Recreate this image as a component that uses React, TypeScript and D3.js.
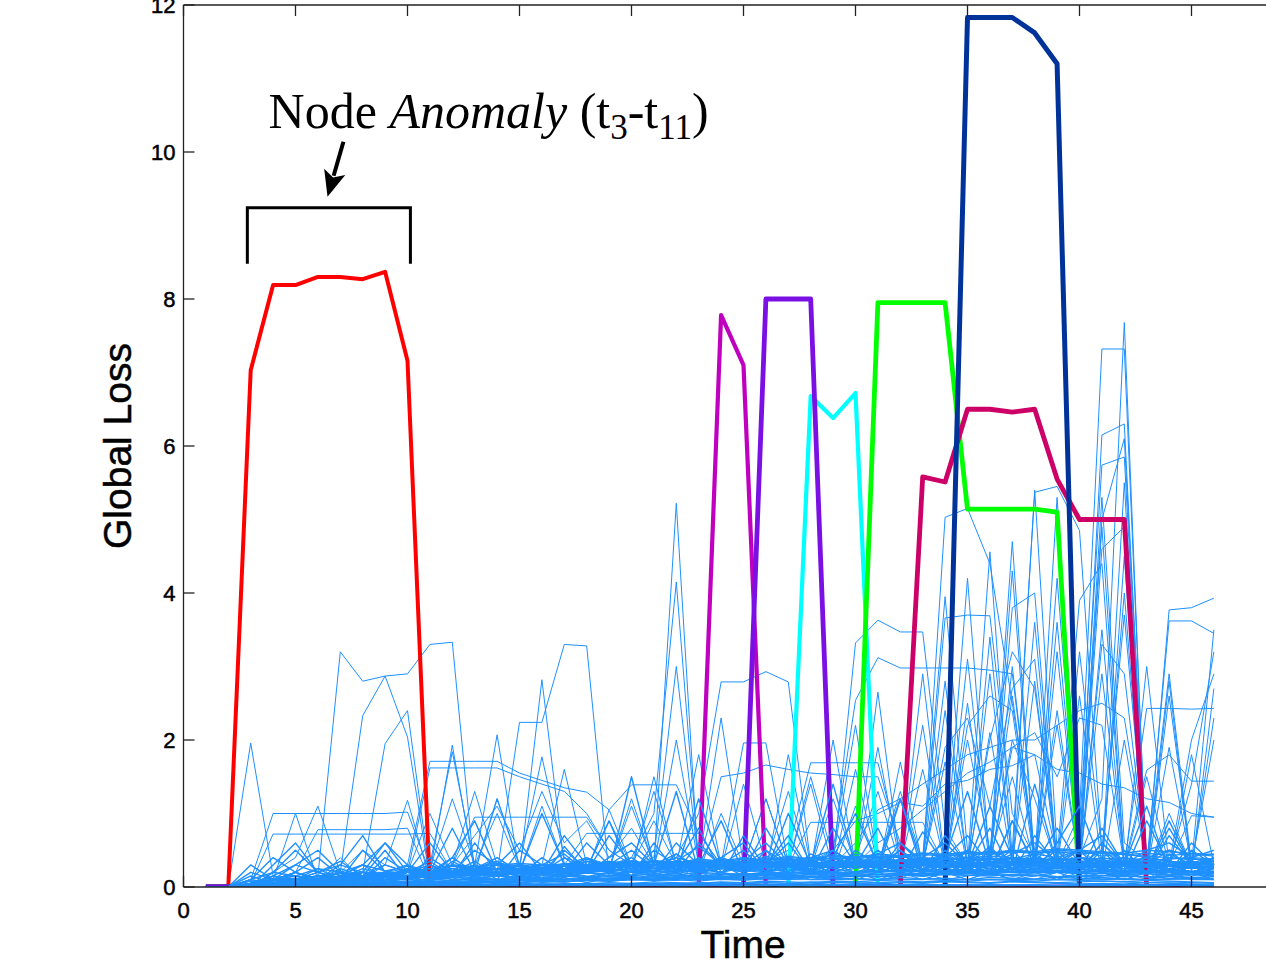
import React from 'react';
import * as d3 from 'd3';

// ---------- DATA ----------
const TIMES = [1,2,3,4,5,6,7,8,9,10,11,12,13,14,15,16,17,18,19,20,21,22,23,24,25,26,27,28,29,30,31,32,33,34,35,36,37,38,39,40,41,42,43,44,45,46];
const X_TICKS = [0,5,10,15,20,25,30,35,40,45];
const Y_TICKS = [0,2,4,6,8,10,12];

// highlighted anomalous nodes
const RED_NODE = [0,0,7.03,8.19,8.19,8.3,8.3,8.27,8.37,7.16, 0,0,0,0,0,0,0,0,0,0, 0,0,0,0,0,0,0,0,0,0, 0,0,0,0,0,0,0,0,0,0, 0,0,0,0,0,0];
const MAGENTA_NODE = [0,0,0,0,0,0,0,0,0,0, 0,0,0,0,0,0,0,0,0,0, 0,0,0,7.78,7.1,0,0,0,0,0, 0,0,0,0,0,0,0,0,0,0, 0,0,0,0,0,0];
const VIOLET_NODE = [0,0,0,0,0,0,0,0,0,0, 0,0,0,0,0,0,0,0,0,0, 0,0,0,0,0,8.0,8.0,8.0,0,0, 0,0,0,0,0,0,0,0,0,0, 0,0,0,0,0,0];
const CYAN_NODE = [0,0,0,0,0,0,0,0,0,0, 0,0,0,0,0,0,0,0,0,0, 0,0,0,0,0,0,0,6.68,6.38,6.72, 0,0,0,0,0,0,0,0,0,0, 0,0,0,0,0,0];
const GREEN_NODE = [0,0,0,0,0,0,0,0,0,0, 0,0,0,0,0,0,0,0,0,0, 0,0,0,0,0,0,0,0,0,0, 7.95,7.95,7.95,7.95,5.14,5.14,5.14,5.14,5.1,0, 0,0,0,0,0,0];
const CRIMSON_NODE = [0,0,0,0,0,0,0,0,0,0, 0,0,0,0,0,0,0,0,0,0, 0,0,0,0,0,0,0,0,0,0, 0,0,5.58,5.51,6.5,6.5,6.46,6.5,5.55,5.0, 5.0,5.0,0,0,0,0];
const NAVY_NODE = [0,0,0,0,0,0,0,0,0,0, 0,0,0,0,0,0,0,0,0,0, 0,0,0,0,0,0,0,0,0,0, 0,0,0,0,11.83,11.83,11.83,11.62,11.2,0, 0,0,0,0,0,0];

// other nodes: visible excursions
const FEATURE_NODES = [
  [0,0,.05,.1,.1,.15,3.2,2.8,2.87,2.9, 3.3,3.33,.15,.1,.1,.2,.1,.1,.2,.1, .1,.2,.1,.1,.2,.1,.1,.2,.1,.1, .2,.1,.1,.2,.3,.2,.1,.2,.1,.1, .2,.1,.1,.2,.1,.1],
  [0,0,0,.1,.1,.1,.2,2.33,2.87,2.04, .1,.2,.1,.1,.1,.1,.2,.1,.1,.1, .1,.1,.2,.1,.1,.2,.1,.1,.1,.1, .1,.2,.1,.1,.1,.2,.1,.1,.2,.1, .1,.1,.2,.1,.1,.1],
  [0,0,0,.1,.1,.15,.1,.2,1.95,2.4, .15,.1,.1,.2,.1,.1,.1,.1,.2,.1, .1,.2,.1,.1,.1,.1,.2,.1,.1,.2, .1,.1,.1,.2,.1,.1,.1,.1,.1,.2, .1,.1,.1,.1,.2,.1],
  [0,0,1.96,.15,.1,.05,.1,.08,.1,.12, .15,.2,.18,.15,.2,.22,.18,.2,.25,.2, .22,.2,.25,.3,.22,.2,.25,.22,.2,.25, .3,.25,.2,.22,.25,.3,.25,.2,.22,.25, .2,.22,.25,.2,.22,.2],
  [0,0,.1,1.0,1.0,1.0,1.0,1.0,1.0,1.02, .2,.3,.25,.2,.3,.25,.3,.35,.3,.25, .3,.35,.3,.4,.3,.35,.3,.25,.3,.35, .4,.3,.35,.3,.4,.35,.3,.35,.3,.3, .35,.3,.4,.35,.3,.35],
  [0,0,.05,.72,.72,.72,.72,.72,.72,.72, .73,.2,.15,.2,.25,.2,.15,.2,.25,.2, .15,.2,.25,.2,.15,.2,.3,.2,.15,.2, .25,.2,.15,.2,.3,.25,.2,.15,.2,.25, .2,.15,.2,.25,.2,.2],
  [0,0,0,.1,.2,.78,.78,.78,.78,.8, .1,.15,.2,.15,.1,.15,.2,.15,.1,.2, .15,.1,.2,.15,.1,.2,.15,.1,.15,.2, .1,.15,.2,.1,.15,.2,.1,.15,.2,.1, .15,.2,.1,.15,.2,.1],
  [0,0,0,.1,1.0,.1,.4,.1,.3,1.18, .1,.2,.3,.2,.1,.3,.2,.1,.2,.3, .2,.1,.3,.2,.1,.2,.3,.2,.1,.3, .2,.1,.3,.2,.1,.2,.3,.2,.1,.3, .2,.1,.2,.3,.2,.1],
  [0,0,0,.2,.4,1.1,.2,.5,.3,.2, 1.0,.3,.2,.4,.2,.3,.2,.4,.3,.2, .3,.4,.2,.3,.4,.2,.3,.2,.4,.3, .2,.3,.4,.2,.3,.2,.4,.3,.2,.3, .4,.2,.3,.2,.4,.3],
  [0,0,0,.1,.1,.2,.1,.2,.2,.3, 1.71,1.71,1.71,1.71,1.55,1.45,1.35,1.29,1.05,1.39, 1.39,1.39,.73,.3,.2,.3,.2,.3,.2,.3, .2,.3,.2,.3,.2,.3,.2,.3,.2,.3, .2,.3,.2,.3,.2,.3],
  [0,0,0,.05,.1,.1,.15,.1,.1,.15, .2,.15,.2,.2,2.24,2.24,3.3,3.28,.15,.2, .15,.2,.25,.2,.15,.2,.25,.2,.15,.2, .25,.2,.15,.2,.25,.2,.15,.2,.25,.2, .15,.2,.25,.2,.15,.2],
  [0,0,0,.05,.05,.1,.1,.1,.15,.1, .15,.2,.15,.2,.2,2.82,.3,.2,.25,.2, .3,.25,.2,.3,.25,.2,.3,.25,.2,.3, .25,.2,.3,.25,.2,.3,.25,.2,.3,.25, .2,.3,.25,.2,.3,.25],
  [0,0,0,.05,.1,.1,.1,.15,.1,.15, .2,1.93,.2,.25,.2,.3,.25,.2,.3,.25, .2,.3,.25,.2,.3,.25,.2,.3,.25,.2, .3,.25,.2,.3,.25,.2,.3,.25,.2,.3, .25,.2,.3,.25,.2,.3],
  [0,0,0,.1,.1,.15,.1,.2,.15,.2, .3,1.84,.3,2.07,.2,.3,.25,.3,.2,.3, .25,.3,.2,.3,.25,.3,.2,.3,.25,.3, .2,.3,.25,.3,.2,.3,.25,.3,.2,.3, .25,.3,.2,.3,.25,.3],
  [0,0,0,.1,.1,.1,.15,.2,.15,.2, .2,.3,.2,.3,.3,1.77,.4,.3,.2,.3, .2,.3,.2,.3,.2,.3,.2,.3,.2,.3, .2,.3,.2,.3,.2,.3,.2,.3,.2,.3, .2,.3,.2,.3,.2,.3],
  [0,0,0,.1,.1,.1,.15,.1,.2,.2, 1.62,1.62,1.62,1.62,1.5,1.4,1.3,1.0,.5,.3, .2,.3,.25,.3,.2,.3,.25,.3,.2,.3, .25,.3,.2,.3,.25,.3,.2,.3,.25,.3, .2,.3,.25,.3,.2,.3],
  [0,0,0,.05,.1,.1,.1,.15,.1,.2, .2,.3,.95,.95,.95,.95,.95,.95,.5,.3, .2,.3,.2,.3,.2,.3,.2,.3,.2,.3, .2,.3,.2,.3,.2,.3,.2,.3,.2,.3, .2,.3,.2,.3,.2,.3],
  [0,0,0,.1,.1,.1,.1,.1,.1,.15, .2,.2,.25,.2,.3,.25,.3,.3,.35,.3, .3,5.22,.2,.3,.25,.3,.2,.3,.25,.3, .2,.3,.25,.3,.2,.3,.25,.3,.2,.3, .25,.3,.2,.3,.25,.3],
  [0,0,0,.05,.1,.1,.1,.1,.15,.1, .2,.2,.2,.25,.2,.3,.25,.3,.3,.4, 1.0,4.15,.3,.3,.25,.3,.3,.25,.3,.3, .25,.3,.3,.25,.3,.3,.25,.3,.3,.25, .3,.3,.25,.3,.3,.25],
  [0,0,0,.1,.1,.1,.1,.1,.1,.1, .15,.2,.2,.2,.25,.2,.3,.28,.32,.3, .4,3.0,.3,.28,.32,.3,.28,.32,.3,.28, .32,.3,.28,.32,.3,.28,.32,.3,.28,.32, .3,.28,.32,.3,.28,.32],
  [0,0,0,.05,.1,.1,.1,.15,.1,.2, .2,.25,.2,.3,.25,.2,.3,.25,.3,.3, .3,.4,1.0,2.79,2.79,2.93,2.79,.3,.25,.3, .2,.3,.25,.3,.2,.3,.25,.3,.2,.3, .25,.3,.2,.3,.25,.3],
  [0,0,0,.05,.05,.1,.1,.1,.15,.1, .15,.2,.2,.25,.2,.3,.25,.2,.3,.25, .3,.25,.3,.3,1.96,1.96,.3,.25,.3,.2, .25,.3,.2,.25,.3,.2,.25,.3,.2,.25, .3,.2,.25,.3,.2,.25],
  [0,0,0,.1,.1,.1,.15,.1,.15,.2, .2,.25,.2,.3,.25,.3,.3,.25,.3,.35, .3,.35,.3,1.5,1.55,1.66,1.6,1.55,1.53,1.5, 1.5,.6,.3,.25,.3,.35,.3,.25,.3,.35, .3,.25,.3,.35,.3,.25],
  [0,0,0,.05,.1,.1,.1,.1,.15,.1, .15,.2,.2,.25,.2,.3,.25,.2,.3,.25, .3,.25,.3,.3,.25,.3,.3,.25,.3,3.32, 3.63,3.47,3.47,.8,.3,.25,.3,.3,.25,.3, .3,.25,.3,.3,.25,.3],
  [0,0,0,.05,.05,.1,.1,.1,.1,.15, .15,.2,.2,.2,.25,.2,.3,.25,.3,.3, .3,.35,.3,.3,.35,.3,.3,.35,.5,2.54, 3.12,2.98,2.98,2.98,2.98,2.95,2.9,.4,.3,.35, .3,.3,.35,.3,.3,.35],
  [0,0,0,.05,.1,.1,.1,.15,.1,.15, .2,.2,.2,.25,.2,.25,.3,.25,.3,.3, .3,.3,.3,.35,.3,.3,.3,.88,.88,.88, .88,.88,.88,.3,.3,.35,.3,.3,.35,.3, .3,.35,.3,.3,.35,.3],
  [0,0,0,.05,.05,.1,.1,.1,.1,.1, .15,.15,.2,.2,.2,.25,.2,.25,.3,.25, .3,.3,.25,.3,.3,.35,.5,1.69,1.69,1.69, 1.69,.5,.3,.35,.3,.3,.35,.3,.3,.35, .3,.3,.35,.3,.3,.35],
  [0,0,0,.05,.1,.1,.1,.1,.1,.15, .15,.2,.2,.2,.25,.25,.2,.3,.25,.3, .3,.25,.3,.3,.25,.3,.35,.3,.3,.3, 2.65,.3,.35,.3,.3,.35,.3,.3,.35,.3, .3,.35,.3,.3,.35,.3],
  [0,0,0,.05,.05,.1,.1,.1,.15,.1, .15,.2,.15,.2,.25,.2,.25,.3,.25,.3, .3,.25,.3,.35,.3,.3,.35,.3,.3,.35, .3,.3,.4,3.95,.5,.3,.35,.3,.4,.3, .35,.3,.4,.3,.35,.3],
  [0,0,0,.05,.1,.1,.1,.1,.1,.15, .15,.2,.2,.25,.2,.25,.3,.25,.3,.3, .3,.3,.35,.3,.3,.35,.3,.3,.35,.3, .3,.35,.3,5.03,5.15,4.4,2.5,.5,.35,.3, .35,.3,.35,.3,.35,.3],
  [0,0,0,.05,.05,.1,.1,.1,.15,.1, .15,.2,.2,.2,.25,.2,.3,.25,.3,.3, .3,.3,.35,.3,.3,.35,.3,.3,.35,.3, .3,.35,.3,.35,.4,.3,.35,.4,.3,1.0, 7.32,7.32,.2,.3,.35,.3],
  [0,0,0,.05,.1,.1,.15,.1,.1,.15, .2,.15,.2,.2,.25,.2,.25,.3,.25,.3, .3,.25,.3,.35,.3,.3,.35,.3,.3,.35, .3,.35,.3,.3,.35,.3,.4,.3,.35,.4, 1.2,7.68,.1,.3,.2,.3],
  [0,0,0,.05,.05,.1,.1,.15,.1,.1, .15,.2,.15,.2,.2,.25,.2,.25,.3,.25, .3,.3,.25,.3,.35,.3,.3,.35,.3,.3, .35,.3,.3,.35,.3,.35,.3,.4,.35,.5, 6.15,6.3,.2,.3,.25,.3],
  [0,0,0,.1,.1,.1,.1,.1,.15,.15, .2,.2,.2,.25,.2,.25,.3,.25,.3,.3, .25,.3,.3,.35,.3,.3,.35,.3,.35,.3, .3,.35,.3,.35,.4,.3,.35,.4,.3,.8, 5.74,5.85,.3,.25,.3,.25],
  [0,0,0,.05,.1,.1,.1,.15,.1,.15, .2,.15,.2,.25,.2,.25,.2,.3,.25,.3, .3,.25,.3,.3,.35,.3,.3,.35,.3,.35, .3,.35,.3,.35,.3,.4,.5,5.37,5.45,4.85, .5,.3,.35,.3,.25,.3],
  [0,0,0,.05,.05,.1,.1,.1,.15,.1, .15,.2,.2,.2,.25,.2,.25,.25,.3,.25, .3,.3,.25,.3,.3,.35,.3,.3,.35,.3, .35,.3,.35,.3,.35,.4,.3,.35,.4,.3, .35,.3,.2,3.77,3.8,3.93],
  [0,0,0,.05,.1,.05,.1,.15,.1,.15, .15,.2,.15,.2,.25,.2,.2,.25,.3,.25, .3,.25,.3,.3,.25,.3,.35,.3,.3,.35, .3,.3,.35,.3,.4,.35,.3,.4,.35,.3, .4,.35,.3,3.62,3.62,3.45],
  [0,0,0,.1,.1,.1,.1,.15,.15,.1, .2,.2,.15,.2,.25,.25,.2,.3,.25,.3, .25,.3,.3,.25,.3,.3,.35,.3,.3,.35, .3,.35,.3,.35,.3,.35,.4,.3,.35,.4, .3,.35,.4,.3,.3,3.5],
  [0,0,0,.05,.1,.1,.15,.1,.15,.1, .2,.15,.2,.2,.25,.2,.3,.25,.25,.3, .3,.25,.3,.35,.3,.3,.35,.3,.35,.3, .35,.3,.4,.35,.3,.4,.35,.3,.4,.35, .3,.3,2.43,2.43,2.42,2.43],
  [0,0,0,.05,.05,.1,.1,.1,.1,.15, .15,.15,.2,.2,.2,.25,.25,.25,.3,.3, .3,.3,.3,.35,.3,.35,.3,.35,.3,.35, .35,.3,.35,.4,.35,.3,.4,.35,.3,.4, .35,.3,1.59,1.8,1.44,1.44],
  [0,0,0,.1,.1,.1,.15,.1,.15,.2, .15,.2,.2,.25,.2,.25,.3,.25,.3,.25, .3,.3,.35,.3,.3,.35,.3,.35,.3,.3, .35,.3,.35,.3,.4,.35,.3,.4,.35,.3, .4,.35,.3,.3,.97,.95],
  [0,0,0,.05,.1,.1,.1,.1,.15,.15, .2,.2,.2,.2,.25,.25,.3,.3,.25,.3, .3,.3,.35,.3,.3,.35,.3,.3,.35,.3, .35,.3,.35,.3,.3,4.56,.4,.3,.35,.3, .35,.3,.4,.35,.3,.35],
  [0,0,0,.1,.05,.1,.15,.15,.1,.2, .15,.2,.25,.2,.25,.3,.2,.3,.25,.3, .3,.25,.3,.35,.3,.3,.35,.3,.35,.3, .3,.35,.3,.35,.3,.35,.3,5.4,.5,.35, .3,.35,.3,.35,.3,.3],
  [0,0,0,.05,.1,.1,.1,.15,.15,.15, .2,.2,.25,.2,.25,.25,.3,.25,.3,.3, .3,.35,.3,.3,.35,.3,.3,.35,.3,.35, .3,.35,.3,.35,.3,.35,.3,.35,.3,.4, 5.3,.6,.35,.3,.35,.3],
  [0,0,0,.1,.1,.1,.15,.1,.1,.2, .2,.15,.2,.25,.2,.3,.25,.3,.25,.3, .25,.3,.35,.3,.3,.35,.3,.35,.3,.3, .35,.3,.35,.3,.35,.3,3.8,4.0,.3,.35, .3,.35,.3,.3,.35,.3],
  [0,0,0,.05,.1,.1,.1,.1,.15,.15, .2,.2,.2,.25,.25,.25,.3,.3,.25,.3, .3,.3,.35,.3,.35,.3,.35,.3,.35,.3, .35,.3,.3,3.66,3.7,3.69,1.0,.4,.35,.3, .35,.3,.35,.3,.35,.3],
  [0,0,0,.1,.1,.1,.1,.15,.15,.2, .2,.15,.2,.2,.25,.3,.25,.3,.3,.25, .3,.35,.3,.3,.35,.3,.35,.3,.3,.35, .3,.35,.3,.35,.3,.35,.3,.2,4.2,.3, .35,.3,.35,.3,.35,.3],
  [0,0,0,.05,.1,.1,.15,.1,.15,.15, .2,.2,.25,.2,.25,.2,.3,.25,.3,.3, .25,.3,.35,.3,.3,.35,.3,.35,.3,.35, .3,.35,.3,.35,.3,.35,.3,.35,.3,.3, 4.6,4.9,.2,.35,.3,.35],
  [0,0,0,.1,.1,.15,.1,.15,.2,.15, .2,.25,.2,.25,.3,.25,.3,.25,.3,.3, .35,.3,.3,.35,.3,.35,.3,.35,.3,.35, .3,.35,.3,.35,2.2,2.6,2.4,.3,.35,.3, .35,.3,.35,.3,.35,.3],
  [0,0,0,.05,.1,.1,.1,.15,.1,.15, .2,.2,.2,.25,.2,.25,.3,.25,.3,.3, .3,.3,.35,.3,.35,.3,.3,.35,.3,.35, .3,.35,.3,2.8,.3,2.9,.35,.3,.35,.3, .35,.3,.35,.3,.35,.3],
  [0,0,0,.1,.1,.1,.1,.15,.2,.15, .2,.2,.25,.2,.25,.3,.25,.3,.25,.3, .3,.35,.3,.3,.35,.3,.35,.3,.35,.3, .35,.3,.35,.3,.35,.3,.35,.3,.3,3.2, .5,3.7,.3,.35,.3,.35],
  [0,0,0,.05,.05,.1,.15,.1,.15,.2, .15,.2,.25,.2,.25,.25,.3,.3,.25,.3, .3,.35,.3,.35,.3,.35,.3,.3,.35,.3, .35,.3,.35,.3,.35,.3,.35,.3,.35,.3, .3,4.0,.2,2.8,.2,.3],
  [0,0,0,.1,.1,.1,.15,.15,.1,.2, .2,.2,.25,.2,.3,.25,.3,.25,.3,.3, .35,.3,.3,.35,.3,.35,.3,.35,.3,.35, .3,.35,.3,.35,.3,.35,.3,.35,.3,.35, .3,.35,.3,.3,2.0,2.9],
  [0,0,0,.05,.1,.1,.1,.15,.1,.15, .2,.15,.2,.25,.2,.25,.3,.25,.3,.25, .3,.3,.35,.3,.35,.3,.35,.3,.35,.3, .35,.3,.35,.3,.35,.3,.35,.3,.35,.3, .35,.3,.35,.3,.2,2.7],
  [0,0,0,.1,.1,.1,.1,.15,.15,.2, .2,.2,.2,.25,.25,.3,.3,.25,.3,.3, .3,.35,.3,.35,.3,.35,.3,.35,.3,.35, .3,.35,.3,.35,.3,.3,1.9,2.1,1.5,2.3, 2.2,.3,.35,.3,.35,.3],
  [0,0,0,.05,.1,.1,.15,.1,.15,.15, .2,.2,.25,.25,.2,.3,.25,.3,.3,.25, .3,.35,.3,.3,.35,.3,.35,.3,.5,.9, 1.0,1.15,1.1,1.4,1.45,1.6,1.65,1.8,1.6,1.55, 1.4,1.35,1.2,1.15,1.0,.95],
  [0,0,0,.1,.1,.15,.1,.15,.2,.2, .15,.2,.25,.2,.3,.25,.3,.3,.25,.3, .35,.3,.3,.35,.3,.35,.3,.35,.3,.35, .3,.35,.3,.35,.3,.35,.3,.35,.3,.35, .3,.35,.3,2.9,.3,.35],
  [0,0,0,.05,.1,.1,.1,.15,.1,.15, .2,.2,.2,.25,.25,.3,.25,.3,.3,.3, .3,.35,.3,.35,.3,.35,.3,.35,.3,.6, 1.05,1.2,1.4,1.6,1.8,1.9,2.0,1.2,.3,.35, .3,.35,.3,.35,.3,.35],
  [0,0,0,.1,.05,.1,.15,.1,.15,.2, .15,.2,.25,.2,.3,.25,.3,.25,.3,.3, .3,.3,.35,.3,.35,.3,.35,.3,.35,.3, .6,.8,1.05,1.3,1.55,1.7,1.9,1.8,.4,.3, .35,.3,.35,.3,.35,.3],
  [0,0,0,.05,.1,.1,.1,.15,.1,.15, .2,.2,.25,.2,.25,.2,.3,.73,.73,.73, .73,.73,.73,.3,.25,.3,.25,.3,.25,.3, .25,.3,.25,.3,.25,.3,.25,.3,.25,.3, .25,.3,.25,.3,.25,.3],
  [0,0,0,.1,.1,.1,.15,.1,.15,.2, .2,.15,.2,.25,.2,.3,.25,.2,1.05,.3, .9,.3,.25,.3,.25,.3,.25,.3,.25,.3, .25,.3,.25,.3,.25,.3,.25,.3,.25,.3, .25,.3,.25,.3,.25,.3],
  [0,0,0,.05,.1,.1,.1,.15,.1,.2, .2,.2,.25,.2,.3,.25,.3,.25,.3,.3, .3,.3,.35,.3,.35,.3,.35,.3,.35,.3, .35,.3,.35,.3,.3,2.0,3.2,2.7,.4,3.9, 4.4,.3,.35,.3,.35,.3],
  [0,0,0,.1,.1,.1,.15,.1,.15,.15, .2,.2,.2,.25,.25,.3,.25,.3,.3,.3, .35,.3,.3,.35,.3,.35,.3,.35,.3,.35, .3,.35,.3,.35,.35,.4,4.7,.3,2.2,.3, 4.9,.3,.35,.3,.35,.3],
  [0,0,0,.05,.05,.1,.1,.15,.15,.2, .2,.25,.2,.25,.3,.25,.3,.3,.25,.3, .3,.35,.3,.35,.3,.35,.3,.35,.3,.35, .3,.35,.3,1.9,2.3,1.1,2.7,3.1,.3,.3, 3.3,2.9,.3,.35,.3,.35],
  [0,0,0,.1,.1,.1,.1,.15,.2,.15, .2,.25,.2,.3,.25,.3,.25,.3,.3,.35, .3,.3,.35,.3,.35,.3,.35,.3,.35,.3, .35,.3,.35,.3,.35,.3,.35,.3,5.3,.5, .3,5.5,.2,.35,.3,.35],
  [0,0,0,.05,.1,.1,.15,.1,.15,.2, .2,.2,.25,.2,.25,.3,.25,.3,.3,.3, .3,.35,.3,.35,.3,.35,.3,.35,.3,.35, .3,.35,.3,.3,3.1,.4,1.5,.3,3.6,.3, .35,.3,.35,.3,.35,.3],
  [0,0,0,.1,.1,.1,.1,.1,.15,.15, .2,.2,.2,.25,.25,.25,.3,.3,.3,.3, .35,.3,.35,.3,.35,.3,.35,.3,.35,.3, .35,.3,.35,.3,.35,.3,.35,.3,.35,.5, 5.0,6.1,.3,.35,.3,.35],
  [0,0,0,.05,.1,.1,.1,.15,.1,.15, .2,.2,.25,.25,.3,.25,.3,.25,.3,.3, .3,.35,.3,.35,.3,.35,.3,.35,.3,.35, .3,.35,.3,.35,.3,.3,2.0,2.0,2.2,2.4, 2.5,2.3,.4,.35,.3,.35],
  [0,0,0,.1,.1,.1,.15,.15,.1,.15, .2,.2,.2,.25,.25,.3,.3,.25,.3,.3, .35,.3,.35,.3,.35,.3,.35,.3,.35,.3, .35,.3,.35,.3,.35,.3,.35,.3,.35,.3, .35,.3,.35,.3,1.4,3.2],
  [0,0,0,.05,.05,.1,.1,.15,.15,.15, .2,.2,.25,.2,.3,.25,.3,.3,.25,.3, .35,.3,.3,.35,.3,.35,.3,.35,.3,.35, .3,.35,.3,.35,.3,.35,.3,.35,.3,.35, .3,.35,.2,1.0,.3,2.0],
  [0,0,0,.1,.1,.15,.1,.15,.15,.2, .2,.2,.25,.25,.3,.25,.3,.3,.3,.3, .3,.35,.3,.35,.3,.35,.3,.35,.3,.4, 1.3,.3,1.6,.3,2.0,.5,2.6,.4,.35,.3, .35,.3,.35,.3,.35,.3],
  [0,0,0,.05,.1,.1,.1,.1,.15,.15, .2,.2,.2,.25,.25,.3,.25,.3,.3,.3, .35,.3,.35,.3,.3,1.2,.3,1.5,.4,2.2, .3,1.3,.35,.3,.35,.3,.35,.3,.35,.3, .35,.3,.35,.3,.35,.3],
  [0,0,0,.1,.1,.1,.15,.1,.15,.2, .2,.3,.7,1.1,.5,1.3,.6,.9,.4,.8, .3,.35,.3,.35,.3,.35,.3,.35,.3,.35, .3,.35,.3,.35,.3,.35,.3,.35,.3,.35, .3,.35,.3,.35,.3,.35],
];

// other nodes: occasional medium spikes
const SPIKE_NODES = [
  [0,0,0,.1,.2,.1,.2,.15,.2,.1, .2,.15,.25,.2,.15,.25,.2,.3,.2,.25, .3,.2,.3,2.3,.3,.2,1.8,.3,.25,.3, .2,.3,2.2,.3,.25,.3,3.0,.3,.2,.3, .25,.3,.2,2.6,.3,.25],
  [0,0,0,.05,.1,.2,.1,.2,.1,.15, .2,.1,.2,.15,.25,.2,.15,.25,.3,.2, .25,.3,.2,.25,1.4,.3,.2,.25,2.0,.3, .25,.2,.3,.25,2.5,.3,.2,.25,3.2,.3, .2,2.0,.3,.25,.2,.3],
  [0,0,.05,.1,.1,.15,.1,.2,.15,.1, .2,.15,.2,.25,.2,.15,.3,.2,.25,.3, .2,.3,1.8,.3,.2,.25,.3,1.4,.25,.3, .2,1.7,.3,.25,.2,3.4,.3,.25,.3,.2, 3.5,.3,.25,.2,1.8,.3],
  [0,0,0,.1,.15,.1,.2,.1,.15,.2, .1,.2,.15,.25,.2,.3,.2,.25,.2,.3, .25,.2,.3,.25,.3,1.2,.3,.2,.25,1.6, .3,.25,.2,2.4,.3,.25,.3,2.8,.3,.2, .3,.25,1.5,.3,.2,.25],
  [0,0,0,.05,.1,.1,.15,.2,.1,.15, .2,.1,.25,.2,.15,.2,.3,.2,.25,.2, .3,.25,.2,1.0,.3,.25,.2,.3,.25,.3, 1.9,.3,.25,.3,4.2,.3,.2,.3,.25,2.6, .3,.25,.2,1.9,.3,.2],
  [0,0,.05,.05,.1,.15,.1,.15,.2,.1, .15,.2,.25,.2,.15,.25,.2,.3,.25,1.1, .3,.25,.2,.3,.25,.3,1.3,.25,.3,.2, .3,.25,2.9,.3,.2,.3,4.3,.3,.25,.3, .2,4.5,.3,.25,.3,.2],
  [0,0,0,.1,.05,.1,.15,.1,.2,.15, .2,.15,.2,.25,.2,.3,.2,.25,.3,.2, 1.5,.3,.2,.25,.3,.2,.3,.25,1.2,.3, .2,.25,.3,1.7,.3,.2,.25,.3,2.4,.3, 2.9,.3,.2,.3,.25,2.3],
  [0,0,0,.05,.1,.15,.1,.2,.1,.15, .2,.25,.15,.2,.3,.2,.25,.2,.3,.25, .3,2.0,.3,.25,.2,.3,.25,.3,.2,1.1, .3,.25,.2,.3,.25,2.1,.3,3.6,.3,.25, .3,.2,3.0,.3,.25,.3],
  [0,0,0,.1,.1,.15,.2,.15,.2,.25, .2,.3,1.3,.3,.2,1.1,.3,.25,.9,.3, 1.3,.3,.25,.3,.2,.3,.25,.3,.2,.3, .25,.3,.2,.3,.25,.3,.2,.3,.25,.3, .2,.3,.25,.3,.2,.3],
  [0,0,.05,.1,.15,.1,.2,.15,.1,.2, .25,1.2,.3,1.0,.25,.3,1.6,.3,.25,1.2, .3,.25,.3,.2,.3,.25,.3,.2,.3,.25, .3,.2,.3,.25,.3,.2,.3,.25,.3,.2, .3,.25,.3,.2,.3,.25],
];

// other nodes: low-loss background band
const BAND_NODES = [
  [0,0,.02,.05,.08,.1,.12,.1,.15,.2, .25,.3,.28,.3,.32,.3,.28,.3,.33,.35, .3,.32,.35,.3,.28,.3,.33,.35,.3,.32, .35,.3,.33,.35,.32,.3,.35,.33,.3,.32, .3,.33,.35,.3,.32,.3],
  [0,0,.01,.03,.05,.06,.08,.07,.1,.12, .15,.18,.2,.22,.2,.25,.22,.2,.25,.28, .25,.27,.3,.28,.25,.27,.3,.28,.3,.27, .3,.28,.25,.3,.28,.27,.3,.25,.28,.3, .27,.25,.28,.3,.27,.25],
  [0,0,0,.02,.03,.05,.04,.06,.05,.08, .1,.09,.12,.1,.14,.12,.15,.13,.16,.15, .18,.16,.2,.18,.17,.2,.19,.22,.2,.18, .22,.2,.24,.22,.2,.23,.21,.25,.22,.2, .24,.22,.2,.23,.21,.2],
  [0,0,.05,.1,.06,.12,.08,.14,.1,.16, .12,.18,.14,.2,.16,.22,.18,.24,.2,.26, .22,.28,.24,.3,.26,.32,.28,.34,.3,.36, .32,.38,.34,.4,.36,.38,.34,.36,.32,.3, .34,.32,.3,.28,.3,.26],
  [0,0,0,.15,.3,.2,.35,.15,.3,.2, .1,.35,.2,.3,.15,.4,.2,.35,.25,.4, .2,.45,.25,.4,.3,.5,.2,.45,.3,.4, .25,.5,.3,.45,.2,.5,.3,.45,.25,.4, .3,.5,.2,.45,.3,.4],
  [0,0,.1,.05,.2,.1,.25,.15,.5,.1, .3,.15,.6,.2,.3,.1,.55,.2,.35,.15, .6,.2,.4,.15,.7,.25,.4,.2,.8,.3, .4,.2,.75,.3,.5,.2,.9,.3,.5,.2, .8,.3,.4,.2,.6,.3],
  [0,0,.03,.08,.12,.1,.15,.13,.18,.16, .2,.18,.22,.25,.23,.27,.25,.3,.28,.32, .3,.34,.32,.36,.34,.38,.36,.4,.38,.42, .4,.42,.4,.38,.4,.42,.4,.38,.36,.4, .38,.4,.36,.38,.4,.38],
  [0,0,0,0,.02,.02,.04,.05,.05,.06, .08,.07,.09,.1,.09,.11,.1,.12,.11,.13, .12,.14,.13,.15,.14,.16,.15,.17,.16,.18, .17,.19,.18,.2,.19,.21,.2,.22,.21,.2, .22,.21,.2,.22,.21,.2],
  [0,0,.2,.1,.3,.5,.2,.1,.4,.2, .6,.2,.3,.1,.5,.3,.2,.6,.3,.2, .5,.3,.8,.2,.4,.3,.6,.2,.4,1.0, .3,.5,.2,.7,.3,1.1,.4,.3,.8,.3, .5,.2,.9,.3,.4,.3],
  [0,0,.05,.15,.1,.2,.12,.25,.15,.2, .3,.2,.25,.35,.2,.3,.25,.35,.3,.25, .35,.3,.25,.35,.3,.4,.3,.35,.25,.4, .3,.35,.4,.3,.35,.4,.3,.35,.4,.3, .35,.3,.4,.35,.3,.35],
  [0,0,0,.3,.6,.2,.1,.5,.2,.1, .2,.8,.2,.3,.6,.2,.4,.2,.7,.3, .2,.6,.3,.9,.2,.3,.7,.2,.5,.3, .8,.2,.4,.6,.3,.2,.9,.3,.5,.2, .6,.3,.2,.7,.3,.2],
  [0,0,.02,.04,.06,.08,.1,.12,.14,.15, .16,.17,.18,.19,.2,.22,.24,.26,.27,.28, .29,.3,.3,.31,.32,.32,.33,.33,.34,.34, .35,.35,.34,.34,.33,.33,.32,.32,.31,.3, .3,.29,.28,.28,.27,.26],
  [0,0,.1,.2,.15,.25,.2,.3,.22,.28, .2,.3,.25,.35,.22,.3,.28,.38,.3,.35, .28,.4,.32,.38,.3,.42,.35,.4,.32,.45, .38,.42,.35,.45,.4,.5,.38,.45,.4,.5, .42,.45,.4,.5,.42,.45],
  [0,0,0,.05,.02,.08,.05,.1,.07,.12, .09,.14,.1,.16,.12,.18,.14,.2,.15,.22, .17,.24,.19,.26,.21,.28,.23,.3,.25,.32, .27,.3,.25,.28,.26,.3,.27,.29,.25,.28, .26,.3,.27,.29,.25,.28],
  [0,0,.3,.1,.2,.4,.15,.3,.6,.2, .15,.4,.2,1.2,.3,.2,.5,.25,.9,.2, .3,1.3,.2,.4,.6,.2,1.0,.3,.2,.5, .3,1.2,.2,.5,.3,.8,.2,1.4,.3,.2, .6,.3,1.1,.2,.5,.3],
  [0,0,.05,.1,.15,.12,.18,.2,.17,.22, .25,.22,.28,.25,.3,.27,.32,.3,.34,.32, .36,.33,.38,.35,.4,.36,.42,.38,.44,.4, .45,.42,.46,.44,.48,.45,.5,.46,.48,.45, .47,.44,.46,.43,.45,.42],
  [0,0,0,.1,.05,.15,.1,.2,.15,.25, .2,.15,.25,.2,.3,.25,.2,.3,.25,.35, .3,.25,.35,.3,.25,.35,.3,.4,.35,.3, .4,.35,.3,.4,.35,.3,.4,.35,.3,.4, .35,.3,.4,.35,.3,.4],
  [0,0,.1,.4,.2,.1,.3,.7,.2,.1, .4,.2,.5,.3,.2,1.0,.3,.2,.4,.6, .3,.2,1.2,.3,.5,.2,.4,.3,1.4,.3, .2,.6,.3,.4,1.3,.3,.5,.2,.6,1.1, .3,.4,.2,.9,.3,.2],
  [0,0,0,.02,.04,.03,.05,.04,.06,.05, .07,.06,.08,.07,.09,.08,.1,.09,.11,.1, .12,.11,.13,.12,.14,.13,.15,.14,.16,.15, .17,.16,.18,.17,.19,.18,.2,.19,.2,.18, .19,.17,.18,.16,.17,.15],
  [0,0,.05,.08,.2,.1,.15,.3,.12,.2, .35,.15,.25,.4,.2,.3,.45,.2,.3,.5, .25,.35,.55,.3,.35,.6,.3,.4,.5,.3, .45,.6,.35,.4,.7,.3,.45,.6,.35,.5, .7,.3,.5,.6,.4,.5],
  [0,0,.15,.05,.1,.25,.1,.05,.2,.3, .1,.2,.35,.15,.25,.1,.3,.4,.2,.15, .3,.45,.2,.3,.15,.5,.3,.2,.4,.25, .5,.3,.2,.45,.3,.55,.25,.4,.3,.5, .2,.4,.3,.5,.25,.4],
  [0,0,.08,.06,.1,.09,.12,.11,.14,.13, .16,.15,.18,.17,.2,.19,.22,.21,.24,.23, .26,.25,.28,.27,.3,.29,.32,.31,.34,.33, .36,.35,.38,.37,.4,.39,.38,.36,.37,.35, .36,.34,.35,.33,.34,.32],
  [0,0,0,.2,.5,.2,.3,.2,.6,.3, .2,.4,.9,.2,.3,.2,.7,.3,.2,1.5, .3,.2,.6,.3,.2,.8,.3,.2,.4,.3, .2,1.2,.3,.2,.5,.3,.2,.7,.3,.2, .5,.3,.2,.8,.3,.2],
  [0,0,.02,.12,.08,.16,.12,.2,.16,.24, .2,.28,.24,.32,.28,.26,.3,.28,.32,.3, .34,.32,.36,.34,.38,.36,.4,.38,.42,.4, .44,.42,.46,.44,.48,.46,.5,.48,.52,.5, .48,.46,.5,.48,.46,.44],
  [0,0,0,.05,.1,.08,.12,.1,.15,.12, .18,.15,.2,.18,.22,.2,.25,.22,.28,.25, .3,.28,.32,.3,.35,.32,.38,.35,.4,.38, .42,.4,.44,.42,.46,.44,.48,.46,.5,.48, .46,.44,.42,.4,.38,.36],
  [0,0,.01,.02,.01,.03,.02,.04,.03,.05, .04,.06,.05,.07,.06,.08,.07,.09,.08,.1, .09,.1,.08,.11,.09,.12,.1,.13,.11,.12, .1,.13,.11,.12,.1,.13,.12,.11,.13,.12, .11,.12,.1,.11,.12,.1],
  [0,0,0,.01,0,.01,.02,.01,.02,.01, .02,.03,.02,.03,.02,.04,.03,.04,.03,.05, .04,.05,.04,.06,.05,.06,.05,.07,.06,.07, .06,.07,.06,.08,.07,.06,.08,.07,.06,.07, .08,.07,.06,.07,.06,.05],
  [0,0,.02,.04,.03,.05,.06,.05,.07,.08, .07,.09,.1,.09,.11,.12,.11,.13,.14,.13, .15,.16,.15,.17,.18,.17,.19,.2,.19,.21, .2,.22,.21,.2,.22,.21,.2,.22,.21,.2, .21,.2,.19,.2,.19,.18],
  [0,0,0,.03,.01,.04,.02,.05,.03,.06, .04,.07,.05,.08,.06,.09,.07,.1,.08,.11, .09,.12,.1,.13,.11,.14,.12,.15,.13,.16, .14,.17,.15,.18,.16,.17,.15,.16,.14,.15, .16,.15,.14,.15,.13,.14],
  [0,0,.01,.02,.02,.01,.03,.04,.03,.05, .05,.04,.06,.07,.06,.08,.07,.09,.08,.1, .1,.09,.11,.12,.1,.13,.12,.14,.13,.15, .14,.16,.15,.17,.16,.15,.17,.16,.14,.15, .13,.15,.14,.12,.13,.11],
  [0,0,.04,.02,.06,.03,.08,.05,.1,.06, .12,.08,.14,.1,.16,.12,.18,.14,.2,.16, .22,.18,.24,.2,.26,.22,.28,.24,.3,.26, .28,.24,.3,.26,.28,.25,.3,.27,.29,.26, .28,.25,.27,.24,.26,.23],
  [0,0,0,.02,.05,.02,.04,.07,.03,.06, .09,.04,.08,.11,.05,.1,.13,.06,.12,.15, .08,.14,.17,.1,.16,.19,.12,.18,.21,.14, .2,.23,.16,.22,.25,.18,.24,.2,.23,.19, .22,.18,.21,.17,.2,.16],
  [0,0,.01,0,.02,.01,.03,.02,.04,.03, .05,.04,.03,.05,.04,.06,.05,.04,.06,.05, .07,.06,.05,.07,.06,.08,.07,.06,.08,.07, .09,.08,.07,.09,.08,.1,.09,.08,.1,.09, .08,.07,.09,.08,.07,.06],
  [0,0,.03,.06,.09,.07,.11,.09,.13,.11, .15,.13,.17,.15,.19,.17,.21,.19,.23,.21, .25,.23,.27,.25,.29,.27,.31,.29,.33,.31, .32,.3,.33,.31,.34,.32,.33,.31,.32,.3, .31,.29,.3,.28,.29,.27],
  [0,0,0,.01,.03,.02,.04,.03,.02,.04, .06,.05,.07,.06,.08,.1,.09,.11,.1,.12, .14,.13,.15,.14,.16,.18,.17,.19,.18,.2, .22,.21,.23,.22,.24,.23,.25,.24,.26,.25, .24,.23,.22,.21,.2,.19],
  [0,0,0,.01,.01,.02,.01,.02,.03,.02, .03,.02,.04,.03,.02,.04,.03,.05,.04,.03, .05,.04,.06,.05,.04,.06,.05,.04,.06,.05, .04,.06,.05,.07,.06,.05,.07,.06,.05,.04, .05,.04,.06,.05,.04,.03],
  [0,0,.02,.03,.05,.07,.06,.09,.08,.11, .1,.13,.12,.15,.14,.17,.16,.19,.18,.21, .2,.23,.22,.25,.24,.27,.26,.29,.28,.31, .3,.28,.31,.29,.32,.3,.33,.31,.3,.32, .3,.29,.31,.28,.3,.27],
  [0,0,.02,.01,.02,.03,.01,.02,.03,.02, .01,.03,.02,.01,.02,.03,.02,.01,.03,.02, .02,.01,.03,.02,.01,.02,.03,.01,.02,.03, .02,.01,.02,.03,.02,.01,.03,.02,.01,.02, .03,.02,.01,.02,.03,.02],
  [0,0,.01,.03,.02,.01,.02,.01,.03,.02, .03,.02,.01,.03,.02,.01,.03,.02,.02,.01, .03,.02,.01,.03,.02,.03,.01,.02,.03,.01, .02,.03,.02,.01,.03,.02,.02,.03,.01,.02, .01,.03,.02,.03,.01,.02],
  [0,0,.02,.02,.03,.02,.03,.03,.02,.03, .02,.02,.03,.02,.03,.03,.02,.03,.02,.02, .03,.03,.02,.03,.02,.02,.03,.02,.03,.03, .02,.03,.03,.02,.02,.03,.02,.03,.02,.03, .02,.02,.03,.02,.03,.02],
];

// annotation anchor points (data coordinates)
const BRACKET = { x0: 2.85, x1: 10.13, yLow: 8.48, yTop: 9.24 };
const ARROW = { fromT: 7.14, fromV: 10.14, toT: 6.43, toV: 9.39 };
const LABEL = { t: 3.8, v: 10.33 };

// ---------- STYLES ----------
const BLUE = '#1E90FF';
const HIGHLIGHTS = [
  { values: RED_NODE, color: '#FF0000', width: 4 },
  { values: MAGENTA_NODE, color: '#BF00BF', width: 4.2 },
  { values: CYAN_NODE, color: '#00FFFF', width: 4.2 },
  { values: GREEN_NODE, color: '#00FF00', width: 4.8 },
  { values: CRIMSON_NODE, color: '#CC0066', width: 4.8 },
  { values: NAVY_NODE, color: '#003399', width: 5 },
  { values: VIOLET_NODE, color: '#7A10E3', width: 4.8 },
];

const W = 1266;
const H = 960;
const SANS = '"Liberation Sans", Arial, Helvetica, sans-serif';
const SERIF = '"Liberation Serif", "Times New Roman", serif';

export default function App() {
  const x = d3.scaleLinear().domain([0, 50]).range([183.5, 1303.5]);
  const y = d3.scaleLinear().domain([0, 12]).range([887, 5]);
  const line = d3.line<number>().x((_, i) => x(TIMES[i])).y((d) => y(d));

  const ax = x(ARROW.fromT), ay = y(ARROW.fromV);
  const bx = x(ARROW.toT), by = y(ARROW.toV);
  const len = Math.hypot(bx - ax, by - ay);
  const ux = (bx - ax) / len, uy = (by - ay) / len;
  const headL = 26, headW = 11;
  const baseX = bx - ux * headL, baseY = by - uy * headL;
  const head = [
    [bx, by],
    [baseX - uy * headW, baseY + ux * headW],
    [baseX + ux * 6, baseY + uy * 6],
    [baseX + uy * headW, baseY - ux * headW],
  ].map((p) => p.join(',')).join(' ');

  const tickLen = 11;
  const x0 = x(0);
  const yTop = y(12);
  const yBot = y(0);

  return (
    <svg width={W} height={H} style={{ position: 'absolute', left: 0, top: 0, background: '#fff' }}>
      <defs>
        <clipPath id="plotClip">
          <rect x={x0} y={yTop} width={W - x0 + 60} height={yBot - yTop} />
        </clipPath>
      </defs>
      <rect x={0} y={0} width={W} height={H} fill="#fff" />
      <g fill="none" strokeLinejoin="round" clipPath="url(#plotClip)">
        {FEATURE_NODES.map((s, i) => (
          <path key={'f' + i} d={line(s) || ''} stroke={BLUE} strokeWidth={1} />
        ))}
        {SPIKE_NODES.map((s, i) => (
          <path key={'s' + i} d={line(s) || ''} stroke={BLUE} strokeWidth={1} />
        ))}
        {HIGHLIGHTS.map((h, i) => (
          <path key={'h' + i} d={line(h.values) || ''} stroke={h.color} strokeWidth={h.width} />
        ))}
        {BAND_NODES.map((s, i) => (
          <path key={'b' + i} d={line(s) || ''} stroke={BLUE} strokeWidth={1.4} />
        ))}
      </g>

      {/* axes box */}
      <g stroke="#222" strokeWidth={1.3} fill="none">
        <line x1={x0} x2={W + 50} y1={yTop} y2={yTop} />
        <line x1={x0} x2={W + 50} y1={yBot} y2={yBot} />
        <line x1={x0} x2={x0} y1={yTop} y2={yBot} />
        {X_TICKS.map((t) => (
          <g key={'xt' + t}>
            <line x1={x(t)} x2={x(t)} y1={yTop} y2={yTop + tickLen} />
            <line x1={x(t)} x2={x(t)} y1={yBot} y2={yBot - tickLen} />
          </g>
        ))}
        {Y_TICKS.map((v) => (
          <line key={'yt' + v} x1={x0} x2={x0 + tickLen} y1={y(v)} y2={y(v)} />
        ))}
      </g>

      {/* tick labels */}
      <g fontFamily={SANS} fontSize={22} fill="#000" stroke="#000" strokeWidth={0.5}>
        {X_TICKS.map((t) => (
          <text key={'xl' + t} x={x(t)} y={yBot + 31} textAnchor="middle">{t}</text>
        ))}
        {Y_TICKS.map((v) => (
          <text key={'yl' + v} x={x0 - 8} y={y(v) + 8} textAnchor="end">{v}</text>
        ))}
      </g>

      {/* axis titles */}
      <text x={743} y={958} textAnchor="middle" fontFamily={SANS} fontSize={39} fill="#000" stroke="#000" strokeWidth={0.5}>Time</text>
      <text transform={`translate(131, ${(yTop + yBot) / 2}) rotate(-90)`} textAnchor="middle" fontFamily={SANS} fontSize={39} fill="#000" stroke="#000" strokeWidth={0.5}>Global Loss</text>

      {/* annotation */}
      <path
        d={`M${x(BRACKET.x0)},${y(BRACKET.yLow)} V${y(BRACKET.yTop)} H${x(BRACKET.x1)} V${y(BRACKET.yLow)}`}
        stroke="#000" strokeWidth={3} fill="none"
      />
      <line x1={ax} y1={ay} x2={baseX + ux * 4} y2={baseY + uy * 4} stroke="#000" strokeWidth={4} />
      <polygon points={head} fill="#000" />
      <text x={x(LABEL.t)} y={y(LABEL.v)} fontFamily={SERIF} fontSize={50} fill="#000">
        <tspan>Node </tspan>
        <tspan fontStyle="italic">Anomaly</tspan>
        <tspan> (t</tspan>
        <tspan fontSize={35} dy={11}>3</tspan>
        <tspan dy={-11}>-t</tspan>
        <tspan fontSize={35} dy={11}>11</tspan>
        <tspan dy={-11}>)</tspan>
      </text>
    </svg>
  );
}
